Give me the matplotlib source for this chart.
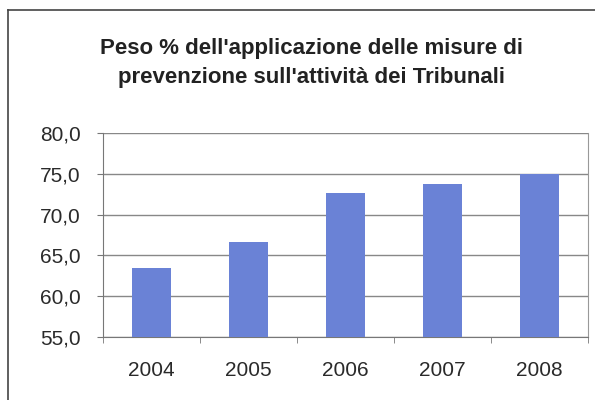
import matplotlib
matplotlib.use("Agg")
import matplotlib.pyplot as plt
from matplotlib.lines import Line2D
import numpy as np

years = ["2004", "2005", "2006", "2007", "2008"]
values = [63.5, 66.6, 72.6, 73.7, 75.0]
yticks = [55, 60, 65, 70, 75, 80]
title = "Peso % dell'applicazione delle misure di\nprevenzione sull'attività dei Tribunali"

plt.rcParams['font.family'] = ['Liberation Sans', 'DejaVu Sans']

W, H = 595, 400
fig = plt.figure(figsize=(W/100, H/100), dpi=100)
ax = fig.add_axes([103/W, 1-337/H, (588-103)/W, (337-133)/H])

x = np.arange(len(years))
ax.bar(x, values, width=0.4, color='#6A82D6', zorder=3)
ax.set_xlim(-0.5, len(years)-0.5)
ax.set_ylim(55, 80)
ax.set_yticks(yticks)
ax.set_yticklabels([f"{v:.1f}".replace('.', ',') for v in yticks], fontsize=15, color='#2a2a2a')
ax.set_xticks(x)
ax.set_xticklabels(years, fontsize=15, color='#2a2a2a')
ax.tick_params(axis='x', length=0, pad=17)
ax.set_xticks(np.arange(len(years)+1)-0.5, minor=True)
ax.tick_params(axis='x', which='minor', length=4, color='#777777', direction='out')
ax.tick_params(axis='y', length=4, color='#777777', direction='out', pad=12)
ax.grid(axis='y', color='#888888', linewidth=1, zorder=0)
ax.spines['top'].set_visible(False)
ax.spines['right'].set_color('#999999')
ax.spines['left'].set_color('#777777')
ax.spines['bottom'].set_color('#777777')

fig.text(312/W, 1-63/H, title, ha='center', va='center', fontsize=16,
         fontweight='bold', color='#222222', linespacing=1.45)

# outer frame
fig.add_artist(Line2D([8/W, 8/W], [0, 1-10/H], transform=fig.transFigure, color='#444444', lw=1.2))
fig.add_artist(Line2D([8/W, 1], [1-10/H, 1-10/H], transform=fig.transFigure, color='#444444', lw=1.2))

fig.savefig("out.png", dpi=100)
